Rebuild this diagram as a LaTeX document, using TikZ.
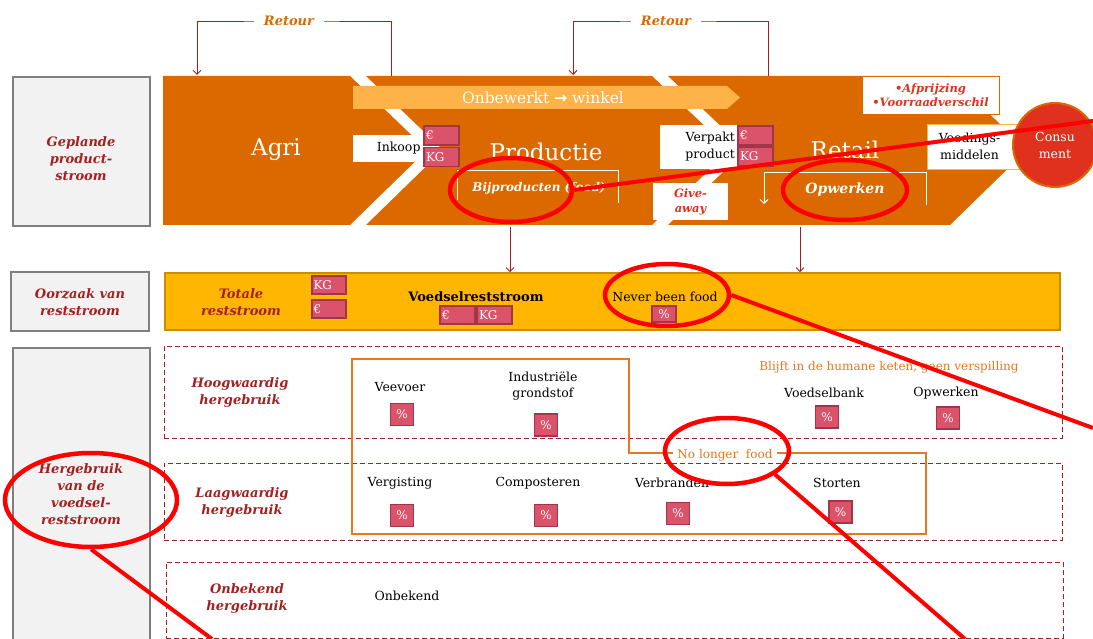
\documentclass[tikz,border=0pt]{standalone}
\usepackage{fontspec}
\setmainfont{DejaVu Serif}
\newfontfamily\arrowfont{DejaVu Sans}
\usetikzlibrary{arrows.meta,shapes.geometric}

\definecolor{pwcorange}{HTML}{DC6900}
\definecolor{barlight}{HTML}{FDB347}
\definecolor{rowyellow}{HTML}{FFB600}
\definecolor{rowyellowline}{HTML}{C88E00}
\definecolor{darkred}{HTML}{A32020}
\definecolor{tagfill}{HTML}{DB536A}
\definecolor{tagline}{HTML}{A3354A}
\definecolor{grayfill}{HTML}{F2F2F2}
\definecolor{grayline}{HTML}{7F7F7F}
\definecolor{consred}{HTML}{E0301E}
\definecolor{lightorange}{HTML}{E8771E}
\definecolor{annot}{HTML}{FF0000}

\tikzset{
  graybox/.style={draw=grayline, fill=grayfill, line width=2.6pt, inner sep=0pt},
  sidelabel/.style={text=darkred, font=\bfseries\itshape\fontsize{13}{17}\selectfont, align=center},
  item/.style={font=\fontsize{12.5}{16}\selectfont, align=center},
  tagbox/.style={draw=tagline, fill=tagfill, line width=1.3pt, text=white,
    font=\fontsize{12}{12}\selectfont, inner xsep=1.5pt, inner ysep=0pt,
    minimum width=35pt, minimum height=19pt, text width=31pt, align=left},
  pctbox/.style={draw=tagline, fill=tagfill, line width=1.3pt, text=white,
    font=\fontsize{12}{12}\selectfont, inner sep=0pt, minimum width=23pt, minimum height=22pt},
  dashrow/.style={draw=darkred, dash pattern=on 5pt off 3pt, line width=1pt, inner sep=0pt},
  whitebox/.style={fill=white, inner sep=0pt},
  flow/.style={draw=darkred, line width=0.9pt},
  flowarrow/.style={flow, -{Straight Barb[length=4pt,width=8pt]}},
  bandtext/.style={text=white, font=\fontsize{23}{23}\selectfont},
  retourlabel/.style={fill=white, text=pwcorange, font=\bfseries\itshape\fontsize{13}{13}\selectfont, inner xsep=10pt, inner ysep=2pt},
  redring/.style={ellipse, draw=annot, line width=4.5pt, inner sep=0pt},
  redline/.style={draw=annot, line width=4pt},
  bracketline/.style={draw=white, line width=0.9pt},
}

\begin{document}
\begin{tikzpicture}[x=1pt,y=-1pt]
\useasboundingbox (0,0) rectangle (1093,639);
\clip (0,0) rectangle (1093,639);

% ---------- left column ----------
\node[graybox, minimum width=137pt, minimum height=149pt] (g1) at (81.5,151.5) {};
\node[sidelabel] (g1t) at (81,159) {Geplande\\product-\\stroom};
\node[graybox, minimum width=138pt, minimum height=59pt] (g2) at (80,301.5) {};
\node[sidelabel] (g2t) at (80,302) {Oorzaak van\\reststroom};
\node[graybox, minimum width=137pt, minimum height=300pt] (g3) at (81.5,498) {};
\node[sidelabel] (g3t) at (81,494) {Hergebruik\\van de\\voedsel-\\reststroom};

% ---------- chain of the product stream ----------
\fill[pwcorange] (163,76) -- (350,76) -- (427,150) -- (350,225) -- (163,225) -- cycle;
\fill[pwcorange] (366,76) -- (652,76) -- (730,150) -- (652,225) -- (366,225) -- (443,150) -- cycle;
\fill[pwcorange] (668,76) -- (950,76) -- (1027,150) -- (950,225) -- (668,225) -- (746,150) -- cycle;

\fill[barlight] (353,86) -- (727,86) -- (740,97.5) -- (727,109) -- (353,109) -- cycle;
\node[text=white, font=\fontsize{15.5}{15.5}\selectfont, inner sep=0pt] (onb) at (543,97.5)
  {Onbewerkt {\arrowfont\bfseries →} winkel};

\node[bandtext] (agri) at (276,150) {Agri};
\node[bandtext] (prod) at (546,152) {Productie};
\node[bandtext] (retail) at (845,150) {Retail};

% by-products bracket
\draw[bracketline] (457,200) -- (457,170) -- (618,170) -- (618,203);
\node[text=white, font=\bfseries\itshape\fontsize{12}{12}\selectfont] (bij) at (539,188) {Bijproducten (food)};

% rework bracket
\draw[bracketline, -{Straight Barb[length=4pt,width=8pt]}] (926,205) -- (926,172) -- (764,172) -- (764,204);
\node[text=white, font=\bfseries\itshape\fontsize{14}{14}\selectfont] (opw) at (845,190) {Opwerken};

% boxes on the chain
\node[whitebox, minimum width=71pt, minimum height=27pt, text width=64pt, inner xsep=3.5pt, align=right,
  font=\fontsize{12.5}{15}\selectfont] (inkoop) at (388.5,148.5) {Inkoop};
\node[tagbox] (inkE) at (441.5,135.5) {€};
\node[tagbox] (inkK) at (441.5,157) {KG};

\node[whitebox, minimum width=78pt, minimum height=44pt, text width=72pt, inner xsep=3pt, align=right,
  font=\fontsize{12.5}{17}\selectfont] (verp) at (699,147) {Verpakt\\product};
\node[tagbox] (verE) at (755.5,135.5) {€};
\node[tagbox] (verK) at (755.5,156.5) {KG};

\node[whitebox, minimum width=75pt, minimum height=37pt, align=center, text=consred,
  font=\bfseries\itshape\fontsize{11.5}{15}\selectfont] (give) at (690.5,201.5) {Give-\\away};

\node[whitebox, draw=pwcorange, line width=0.8pt, minimum width=137pt, minimum height=38pt, align=center,
  text=consred, font=\bfseries\itshape\fontsize{11.5}{14}\selectfont] (afpr) at (930.5,95) {•Afprijzing\\•Voorraadverschil};

\node[whitebox, draw=barlight, line width=0.6pt, minimum width=93pt, minimum height=45pt, align=center,
  font=\fontsize{12.5}{17}\selectfont] (voed) at (973.5,146.5) {\hspace*{-8pt}Voedings-\\\hspace*{-8pt}middelen};

\node[circle, fill=consred, draw=pwcorange, line width=2pt, minimum size=84pt, inner sep=0pt, text=white,
  align=center, font=\fontsize{12.5}{17}\selectfont] (cons) at (1055,145) {Consu\\ment};

% ---------- returns ----------
\coordinate (rA1) at (391,76);
\coordinate (rA2) at (197,75);
\coordinate (rAc) at (289,21);
\draw[flowarrow] (rA1) |- (rAc) -| (rA2);
\node[retourlabel] (ret1) at (rAc) {Retour};

\coordinate (rB1) at (768,76);
\coordinate (rB2) at (573,75);
\coordinate (rBc) at (666,21);
\draw[flowarrow] (rB1) |- (rBc) -| (rB2);
\node[retourlabel] (ret2) at (rBc) {Retour};

% ---------- total residual stream ----------
\node[draw=rowyellowline, fill=rowyellow, line width=1.6pt, minimum width=895pt, minimum height=57pt, inner sep=0pt] (yrow) at (612.5,301.5) {};
\coordinate (dA) at (510,227);
\coordinate (dB) at (800,227);
\draw[flowarrow] (dA) -- (dA |- yrow.north);
\draw[flowarrow] (dB) -- (dB |- yrow.north);

\node[sidelabel, text=darkred] (tot) at (241,302) {Totale\\reststroom};
\node[tagbox, minimum width=34pt, minimum height=18pt] (totK) at (329,285) {KG};
\node[tagbox, minimum width=34pt, minimum height=18pt] (totE) at (329,309) {€};
\node[font=\bfseries\fontsize{13}{13}\selectfont] (vrs) at (476,297) {Voedselreststroom};
\node[tagbox, minimum height=18pt] (vrsE) at (457.5,315) {€};
\node[tagbox, minimum height=18pt] (vrsK) at (494.5,315) {KG};
\node[item] (never) at (665,297) {Never been food};
\node[pctbox, minimum width=24pt, minimum height=16pt] (neverP) at (664,314) {\%};

% ---------- reuse rows ----------
\node[dashrow, minimum width=898pt, minimum height=92pt] (hoog) at (613,392) {};
\node[dashrow, minimum width=898pt, minimum height=77pt] (laag) at (613,501.5) {};
\node[dashrow, minimum width=897pt, minimum height=76pt] (onb2) at (614.5,600) {};

\node[sidelabel] (hoogt) at (240,392.5) {Hoogwaardig\\hergebruik};
\node[sidelabel] (laagt) at (242,502.5) {Laagwaardig\\hergebruik};
\node[sidelabel] (onbt) at (247,599) {Onbekend\\hergebruik};

% area of material that is no longer food
\draw[lightorange, line width=1.4pt] (352,359) -- (629,359) -- (629,453) -- (926,453) -- (926,534) -- (352,534) -- cycle;
\node[fill=white, text=lightorange, font=\fontsize{12}{12}\selectfont, inner xsep=4pt, inner ysep=1pt] (nolong) at (725,455) {No longer\ \ food};

\node[text=lightorange, font=\fontsize{12}{12}\selectfont] (blijft) at (889,367) {Blijft in de humane keten, geen verspilling};

\node[item] (veev) at (400,387) {Veevoer};
\node[pctbox] (veevP) at (402,414.5) {\%};
\node[item] (indu) at (543,386) {Industriële\\grondstof};
\node[pctbox] (induP) at (546,425) {\%};
\node[item] (vbank) at (824,393) {Voedselbank};
\node[pctbox] (vbankP) at (827,417) {\%};
\node[item] (opw2) at (946,393) {Opwerken};
\node[pctbox] (opw2P) at (948,418) {\%};

\node[item] (verg) at (400,483) {Vergisting};
\node[pctbox] (vergP) at (402,515.5) {\%};
\node[item] (comp) at (538,483) {Composteren};
\node[pctbox] (compP) at (546,515.5) {\%};
\node[item] (verb) at (672,483) {Verbranden};
\node[pctbox] (verbP) at (678,513.5) {\%};
\node[item] (stort) at (837,483) {Storten};
\node[pctbox] (stortP) at (840.5,512) {\%};

\node[item] (onbi) at (407,596) {Onbekend};

% ---------- red markings ----------
\node[redring, minimum width=122pt, minimum height=64pt] (m1) at (511,190) {};
\node[redring, minimum width=124pt, minimum height=60pt] (m2) at (845,190) {};
\node[redring, minimum width=124pt, minimum height=62pt] (m3) at (667,295) {};
\node[redring, minimum width=124pt, minimum height=66pt] (m4) at (727,451) {};
\node[redring, minimum width=172pt, minimum height=94pt] (m5) at (91,500) {};

\coordinate (e1) at (1093,121);
\coordinate (e3) at (1093,428);
\coordinate (e4) at (965,639);
\coordinate (e5) at (212,639);
\draw[redline] (m1.east) -- (e1);
\draw[redline] (m3.east) -- (e3);
\draw[redline] (m4.-26) -- (e4);
\draw[redline] (m5.south) -- (e5);
\end{tikzpicture}
\end{document}
